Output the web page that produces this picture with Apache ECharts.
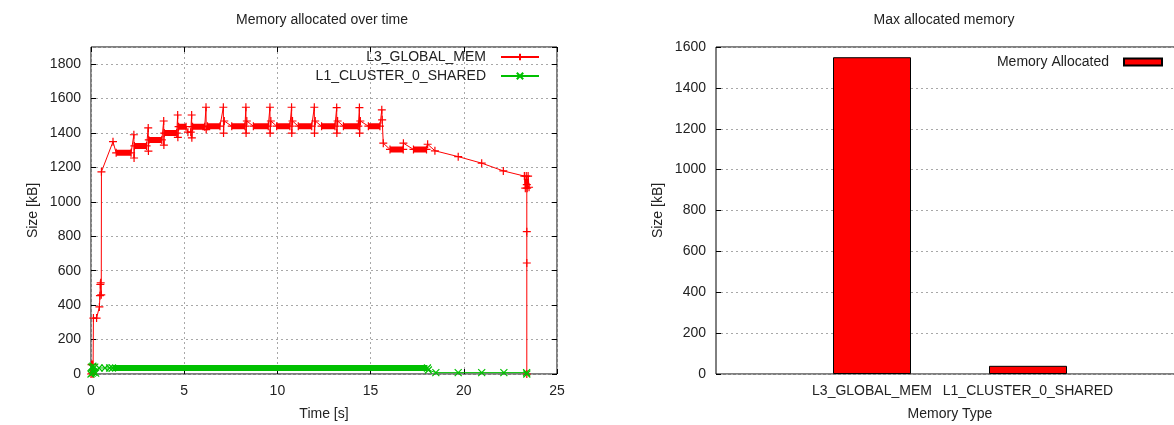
<!DOCTYPE html>
<html><head><meta charset="utf-8">
<script src="https://cdn.jsdelivr.net/npm/echarts@6/dist/echarts.min.js"></script>
<style>html,body{margin:0;padding:0;background:#fff}#c{width:1174px;height:425px}</style>
</head><body><div id="c"></div>
<script>
// ---------- data ----------
const leftTitle = 'Memory allocated over time';
const rightTitle = 'Max allocated memory';
const seriesNames = ['L3_GLOBAL_MEM', 'L1_CLUSTER_0_SHARED'];
// [time s, size kB] sampled points (markers)
const l3Points = [[0,0],[0.03,55],[0.06,5],[0.09,55],[0.11,0],[0.13,325],[0.3,325],[0.45,390],[0.48,455],[0.5,520],[0.52,530],[0.55,460],[0.56,1175],[1.18,1350],
[1.35,1285],[2.15,1285],[2.3,1390],[2.31,1255],[2.33,1325],[2.98,1325],[3.07,1430],[3.08,1295],[3.1,1360],[3.8,1360],[3.9,1470],[3.91,1330],[3.93,1400],[4.6,1400],
[4.65,1505],[4.66,1375],[4.7,1437],[5.1,1437],[5.2,1405],[5.35,1405],[5.4,1505],[5.41,1372],[5.45,1437],[6.1,1437],[6.17,1550],[6.18,1420],[6.25,1440],[6.92,1440],
[7.1,1550],[7.11,1400],[7.15,1470],[7.55,1440],[8.26,1440],[8.31,1550],[8.32,1400],[8.36,1470],[8.71,1440],[9.51,1440],[9.6,1550],[9.61,1400],[9.65,1470],[9.96,1440],[10.67,1440],
[10.76,1550],[10.77,1400],[10.81,1470],[11.12,1440],[11.84,1440],[11.98,1550],[11.99,1400],[12.03,1470],[12.37,1440],[13.09,1440],[13.18,1548],[13.19,1400],[13.23,1470],[13.54,1440],[14.34,1440],
[14.4,1548],[14.41,1400],[14.45,1470],[14.88,1440],[15.5,1440],[15.6,1535],[15.62,1477],[15.68,1341],[16.04,1305],[16.75,1305],[16.76,1341],[17.3,1305],[18.0,1305],[18.06,1335],
[18.45,1297],[19.7,1263],[20.96,1225],[22.12,1180],[23.25,1150],[23.3,1080],[23.35,1150],[23.4,1080],[23.45,1150],[23.5,1085],[23.38,1100],[23.38,827],[23.38,645],[23.38,0]];
// dense stretches: [start s, end s, size kB]
const l3Bands = [[1.35,2.15,1285],[2.33,2.98,1325],[3.1,3.8,1360],[3.93,4.6,1400],[4.7,5.1,1437],[5.45,6.1,1437],[6.25,6.92,1440],[7.55,8.26,1440],[8.71,9.51,1440],[9.96,10.67,1440],[11.12,11.84,1440],[12.37,13.09,1440],[13.54,14.34,1440],[14.88,15.5,1440],[16.04,16.75,1305],[17.3,18.0,1305],[23.25,23.5,1115]];
const l1Points = [[0,0],[0.03,40],[0.06,5],[0.1,45],[0.15,10],[0.2,40],[0.25,5],[0.43,35],[0.75,35],[1.0,35],[1.15,35],[18.05,35],[18.1,23],[18.5,8],[19.7,8],[20.96,8],[22.15,8],[23.37,8],[23.38,0]];
const l1Bands = [[1.15,18.05,35]];
const memTypes = ['L3_GLOBAL_MEM', 'L1_CLUSTER_0_SHARED'];
const maxAllocated = [1550, 40];
const barSeriesName = 'Memory Allocated';

// ---------- chart ----------
const FONT = 'Liberation Sans';
const FS = 14;
const TXT = '#222';
function bandData(b){ const d=[]; b.forEach(r=>{d.push([r[0],r[2]]);d.push([r[1],r[2]]);d.push([r[1],'-']);}); return d; }
const plusSym = 'path://M0,4H8M4,0V8';
const crossSym = 'path://M0,0L8,8M8,0L0,8';
const grid0 = {left:91, top:47, width:466, height:327};
const grid1 = {left:716, top:47, width:468, height:327};
const split = {show:true, lineStyle:{color:'#a8a8a8', type:[2,3], width:1}};
const lbl = {color:TXT, fontFamily:FONT, fontSize:FS};
const nameStyle = {color:TXT, fontFamily:FONT, fontSize:FS};
const plain = v => String(v);
const noLine = {show:false, onZero:false};
const tick = {show:true, inside:true, length:5, lineStyle:{color:'#000'}};

const chart = echarts.init(document.getElementById('c'), null, {renderer:'canvas'});
chart.setOption({
  animation:false,
  backgroundColor:'#fff',
  textStyle:{fontFamily:FONT},
  graphic:[
    {type:'text', x:grid0.left+grid0.width/2-2, y:20, style:{text:leftTitle, fill:TXT, font:FS+'px "'+FONT+'"', textAlign:'center', textVerticalAlign:'middle'}},
    {type:'text', x:grid1.left+grid1.width/2-6, y:20, style:{text:rightTitle, fill:TXT, font:FS+'px "'+FONT+'"', textAlign:'center', textVerticalAlign:'middle'}}
  ],
  grid:[
    Object.assign({show:true, borderColor:'#000', borderWidth:1, backgroundColor:'transparent', outerBoundsMode:'none', containLabel:false}, grid0),
    Object.assign({show:true, borderColor:'#000', borderWidth:1, backgroundColor:'transparent', outerBoundsMode:'none', containLabel:false}, grid1)
  ],
  legend:[
    {data:seriesNames, orient:'vertical', align:'right', right:1174-540, top:50, padding:0, itemGap:5, itemWidth:38, itemHeight:8,
     textStyle:{color:TXT, fontFamily:FONT, fontSize:FS, padding:[0,10,0,0]}, selectedMode:false},
    {data:[{name:barSeriesName, icon:'rect'}], orient:'vertical', align:'right', right:1174-1163, top:55, padding:0, itemWidth:38, itemHeight:7,
     textStyle:{color:TXT, fontFamily:FONT, fontSize:FS, padding:[0,10,0,0]}, selectedMode:false}
  ],
  xAxis:[
    {gridIndex:0, type:'value', min:0, max:25, interval:5, position:'bottom',
     name:'Time [s]', nameLocation:'middle', nameGap:33, nameTextStyle:nameStyle,
     axisLine:noLine, axisTick:tick,
     axisLabel:Object.assign({margin:10, formatter:plain}, lbl), splitLine:split},
    {gridIndex:0, type:'value', min:0, max:25, interval:5, position:'top',
     axisLine:noLine, axisTick:tick, axisLabel:{show:false}, splitLine:{show:false}},
    {gridIndex:1, type:'category', data:['', ...memTypes, ''], boundaryGap:false, position:'bottom',
     name:'Memory Type', nameLocation:'middle', nameGap:33, nameTextStyle:nameStyle,
     axisLine:noLine, axisTick:{show:false},
     axisLabel:Object.assign({margin:10, interval:0}, lbl), splitLine:{show:false}}
  ],
  yAxis:[
    {gridIndex:0, type:'value', min:0, max:1900, interval:200, position:'left',
     name:'Size [kB]', nameLocation:'middle', nameGap:51, nameRotate:90, nameTextStyle:nameStyle,
     axisLine:noLine, axisTick:tick,
     axisLabel:Object.assign({margin:10, showMaxLabel:false, formatter:plain}, lbl),
     splitLine:split},
    {gridIndex:0, type:'value', min:0, max:1900, interval:200, position:'right',
     axisLine:noLine, axisTick:tick, axisLabel:{show:false}, splitLine:{show:false}},
    {gridIndex:1, type:'value', min:0, max:1600, interval:200, position:'left',
     name:'Size [kB]', nameLocation:'middle', nameGap:51, nameRotate:90, nameTextStyle:nameStyle,
     axisLine:noLine, axisTick:tick,
     axisLabel:Object.assign({margin:10, formatter:plain}, lbl), splitLine:split}
  ],
  series:[
    {name:seriesNames[0], type:'line', xAxisIndex:0, yAxisIndex:0, data:l3Points,
     symbol:plusSym, symbolSize:8, showAllSymbol:true,
     lineStyle:{color:'#ff0000', width:1}, itemStyle:{color:'#ff0000', borderColor:'#ff0000', borderWidth:1.2}, z:2},
    {name:seriesNames[0]+'_band', type:'line', xAxisIndex:0, yAxisIndex:0, data:bandData(l3Bands),
     symbol:'none', lineStyle:{color:'#ff0000', width:6, cap:'butt'}, z:2, silent:true},
    {name:seriesNames[1], type:'line', xAxisIndex:0, yAxisIndex:0, data:l1Points,
     symbol:crossSym, symbolSize:7, showAllSymbol:true,
     lineStyle:{color:'#00c000', width:1}, itemStyle:{color:'#00c000', borderColor:'#00c000', borderWidth:1.2}, z:3},
    {name:seriesNames[1]+'_band', type:'line', xAxisIndex:0, yAxisIndex:0, data:bandData(l1Bands),
     symbol:'none', lineStyle:{color:'#00c000', width:6, cap:'butt'}, z:3, silent:true},
    {name:barSeriesName, type:'bar', xAxisIndex:2, yAxisIndex:2,
     data:['-', ...maxAllocated, '-'], barWidth:'50%',
     itemStyle:{color:'#ff0000', borderColor:'#000', borderWidth:1}}
  ]
});
</script></body></html>
